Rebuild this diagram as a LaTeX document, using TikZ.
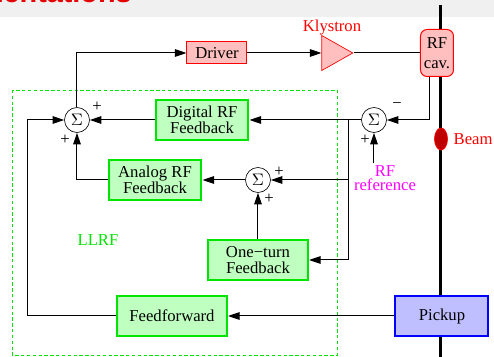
\documentclass[tikz,border=0pt]{standalone}
\usepackage{fontspec}
\setmainfont{Liberation Serif}
\setsansfont{Liberation Sans}
\usetikzlibrary{
    arrows.meta,
    positioning,
    shapes.geometric,
    calc,
}
\definecolor{refmag}{rgb}{1,0,1}
\definecolor{llrfgreen}{rgb}{0,0.9,0}

\begin{document}
\begin{tikzpicture}[
    x=0.6pt, y=-0.6pt,
    >={Triangle[length=7pt, width=4.6pt]},
    wire/.style={line width=0.6pt},
    sigma/.style={draw, circle, fill=white, inner sep=0pt, minimum size=15pt},
    block/.style={draw, align=center, inner sep=1pt},
    fb/.style={block, draw=llrfgreen, line width=1.2pt, fill=green!25,
        minimum height=24pt, font={\fontsize{10}{9.4}\selectfont}},
    power/.style={block, draw=red, fill=red!25, line width=0.6pt},
    sign/.style={inner sep=0pt},
]

\useasboundingbox (0,0) rectangle (494,357);
\clip (0,0) rectangle (494,357);

% slide title band
\fill[gray!12] (0,0) rectangle (494,17);
\node[text=red!90!black, font=\sffamily\bfseries\LARGE, anchor=base east, inner sep=0pt] (title) at (132,2.5) {Implementations};

% beam pipe
\draw[line width=1.8pt] (441,5) -- (441,357);

% LLRF area
\draw[llrfgreen, dash pattern=on 2pt off 1.5pt] (12,90) rectangle (337,355);
\node[text=llrfgreen] (llrf) at (98,240) {LLRF};

\node[power, minimum width=36pt, minimum height=13.2pt] (driver) at (217,53) {Driver};
\node[draw=red, fill=red!25, isosceles triangle, isosceles triangle stretches,
    inner sep=0pt, minimum width=21pt, minimum height=18.6pt] (kly) at (332,53) {};
\node[text=red, inner sep=1pt] (klylabel) [above=2.5pt of kly] {Klystron};
\node[power, rounded corners=4pt, minimum width=19.8pt, minimum height=28.2pt] (cav) at (437,53) {RF\\cav.};

\node[ellipse, draw=red, fill=red!75!black, inner sep=0pt,
    minimum width=7.8pt, minimum height=13.2pt] (beam) at (441,139) {};
\node[text=red] (beamlabel) [right=0pt of beam] {Beam};

\node[sigma] (sum1) at (77,120) {$\Sigma$};
\node[sigma] (sum2) at (374,120) {$\Sigma$};
\node[sigma] (sum3) at (258,180) {$\Sigma$};

\node[fb, minimum width=55.8pt] (digital) at (202,120) {Digital RF\\Feedback};
\node[fb, minimum width=55.8pt] (analog) at (155,180) {Analog RF\\Feedback};
\node[fb, minimum width=60pt] (oneturn) at (258,260) {One−turn\\Feedback};
\node[fb, minimum width=66pt] (ff) at (172,316) {Feedforward};
\node[block, draw=blue, fill=blue!25, line width=1.2pt, minimum width=55.8pt,
    minimum height=24pt] (pickup) at (442,316) {Pickup};

\node[text=refmag, align=center, inner sep=1pt] (rfref) at (385,178) {RF\\[-3.4pt]reference};

% signs
\node[sign] (s1a) at (97,107) {+};
\node[sign] (s1b) at (65,140) {+};
\node[sign] (s2a) at (397,106) {−};
\node[sign] (s2b) at (365,140) {+};
\node[sign] (s3a) at (279,172) {+};
\node[sign] (s3b) at (269,199) {+};

\coordinate (split) at (349,120);
\coordinate (ffcorner) at (28,316);

\draw[wire, ->] (sum1) |- (driver);
\draw[wire, ->] (driver) -- (kly);
\draw[wire] (kly.apex) -- (cav);
\draw[wire, ->] ([xshift=-4.2pt]cav.south) |- (sum2);
\draw[wire, ->] (rfref.north -| sum2) -- (sum2);
\draw[wire, ->] (sum2) -- (digital);
\draw[wire, ->] (digital) -- (sum1);
\draw[wire, ->] (split) |- (oneturn);
\draw[wire, ->] (split |- sum3) -- (sum3);
\draw[wire, ->] (sum3) -- (analog);
\draw[wire, ->] (analog) -| (sum1);
\draw[wire, ->] (oneturn) -- (sum3);
\draw[wire, ->] (pickup) -- (ff);
\draw[wire, ->] (ff) -- (ffcorner) |- (sum1);

\end{tikzpicture}
\end{document}
